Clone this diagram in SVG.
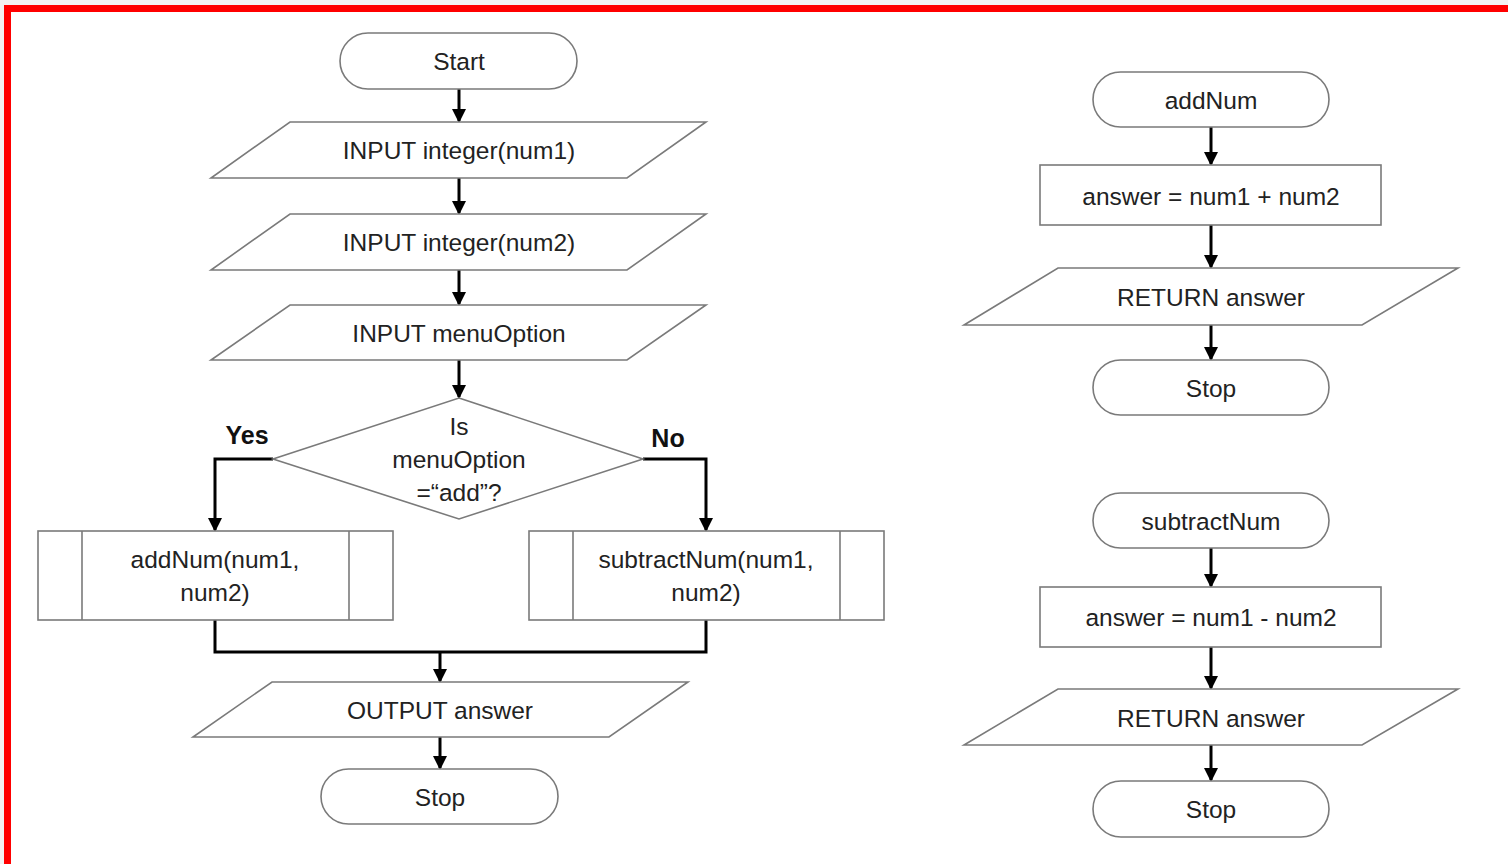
<svg xmlns="http://www.w3.org/2000/svg" width="1508" height="864" viewBox="0 0 1508 864">
<defs>
<marker id="ah" markerWidth="14" markerHeight="14" refX="12" refY="7" orient="auto" markerUnits="userSpaceOnUse">
<path d="M0,0 L14,7 L0,14 Z" fill="#000"/>
</marker>
<style>
.s{fill:#fff;stroke:#7a7a7a;stroke-width:1.6}
.t{font-family:"Liberation Sans",Arial,sans-serif;font-size:24.5px;fill:#222;text-anchor:middle;dominant-baseline:central}
.b{font-family:"Liberation Sans",Arial,sans-serif;font-size:25px;font-weight:bold;fill:#111;text-anchor:middle;dominant-baseline:central}
.c{fill:none;stroke:#000;stroke-width:3}
</style>
</defs>
<rect x="0" y="0" width="1508" height="864" fill="#f3f3f3"/>
<rect x="7.5" y="8.5" width="1520" height="880" fill="#fff" stroke="#ff0000" stroke-width="7"/>

<g id="connectors">
<line class="c" x1="459" y1="89" x2="459" y2="121" marker-end="url(#ah)"/>
<line class="c" x1="459" y1="178" x2="459" y2="213" marker-end="url(#ah)"/>
<line class="c" x1="459" y1="270" x2="459" y2="304" marker-end="url(#ah)"/>
<line class="c" x1="459" y1="360" x2="459" y2="397" marker-end="url(#ah)"/>
<polyline class="c" points="273,459 215,459 215,530" marker-end="url(#ah)"/>
<polyline class="c" points="643,459 706,459 706,530" marker-end="url(#ah)"/>
<polyline class="c" points="215,620 215,652 706,652 706,620"/>
<line class="c" x1="440" y1="652" x2="440" y2="681" marker-end="url(#ah)"/>
<line class="c" x1="440" y1="737" x2="440" y2="768" marker-end="url(#ah)"/>
<line class="c" x1="1211" y1="127" x2="1211" y2="164" marker-end="url(#ah)"/>
<line class="c" x1="1211" y1="225" x2="1211" y2="267" marker-end="url(#ah)"/>
<line class="c" x1="1211" y1="325" x2="1211" y2="359" marker-end="url(#ah)"/>
<line class="c" x1="1211" y1="548" x2="1211" y2="586" marker-end="url(#ah)"/>
<line class="c" x1="1211" y1="647" x2="1211" y2="688" marker-end="url(#ah)"/>
<line class="c" x1="1211" y1="745" x2="1211" y2="780" marker-end="url(#ah)"/>
</g>

<g id="start">
<rect class="s" x="340" y="33" width="237" height="56" rx="28"/>
<text class="t" x="459" y="61">Start</text>
</g>
<g id="input1">
<polygon class="s" points="290,122 706,122 627,178 211,178"/>
<text class="t" x="459" y="150">INPUT integer(num1)</text>
</g>
<g id="input2">
<polygon class="s" points="290,214 706,214 627,270 211,270"/>
<text class="t" x="459" y="242">INPUT integer(num2)</text>
</g>
<g id="input3">
<polygon class="s" points="290,305 706,305 627,360 211,360"/>
<text class="t" x="459" y="333">INPUT menuOption</text>
</g>
<g id="decision">
<polygon class="s" points="459,398 643,459 459,519 273,459"/>
<text class="t" x="459" y="426">Is</text>
<text class="t" x="459" y="459">menuOption</text>
<text class="t" x="459" y="492">=“add”?</text>
</g>
<g id="yes-label"><text class="b" x="247" y="435">Yes</text></g>
<g id="no-label"><text class="b" x="668" y="438">No</text></g>
<g id="addNumCall">
<rect class="s" x="38" y="531" width="355" height="89"/>
<line class="s" x1="82" y1="531" x2="82" y2="620"/>
<line class="s" x1="349" y1="531" x2="349" y2="620"/>
<text class="t" x="215" y="559">addNum(num1,</text>
<text class="t" x="215" y="592">num2)</text>
</g>
<g id="subtractNumCall">
<rect class="s" x="529" y="531" width="355" height="89"/>
<line class="s" x1="573" y1="531" x2="573" y2="620"/>
<line class="s" x1="840" y1="531" x2="840" y2="620"/>
<text class="t" x="706" y="559">subtractNum(num1,</text>
<text class="t" x="706" y="592">num2)</text>
</g>
<g id="output">
<polygon class="s" points="272,682 688,682 609,737 193,737"/>
<text class="t" x="440" y="710">OUTPUT answer</text>
</g>
<g id="stop-main">
<rect class="s" x="321" y="769" width="237" height="55" rx="27.5"/>
<text class="t" x="440" y="797">Stop</text>
</g>

<g id="addNum">
<rect class="s" x="1093" y="72" width="236" height="55" rx="27.5"/>
<text class="t" x="1211" y="100">addNum</text>
</g>
<g id="add-process">
<rect class="s" x="1040" y="165" width="341" height="60"/>
<text class="t" x="1211" y="196">answer = num1 + num2</text>
</g>
<g id="add-return">
<polygon class="s" points="1058,268 1458,268 1362,325 964,325"/>
<text class="t" x="1211" y="297">RETURN answer</text>
</g>
<g id="add-stop">
<rect class="s" x="1093" y="360" width="236" height="55" rx="27.5"/>
<text class="t" x="1211" y="388">Stop</text>
</g>

<g id="subtractNum">
<rect class="s" x="1093" y="493" width="236" height="55" rx="27.5"/>
<text class="t" x="1211" y="521">subtractNum</text>
</g>
<g id="sub-process">
<rect class="s" x="1040" y="587" width="341" height="60"/>
<text class="t" x="1211" y="617">answer = num1 - num2</text>
</g>
<g id="sub-return">
<polygon class="s" points="1058,689 1458,689 1362,745 964,745"/>
<text class="t" x="1211" y="718">RETURN answer</text>
</g>
<g id="sub-stop">
<rect class="s" x="1093" y="781" width="236" height="56" rx="28"/>
<text class="t" x="1211" y="809">Stop</text>
</g>
</svg>
